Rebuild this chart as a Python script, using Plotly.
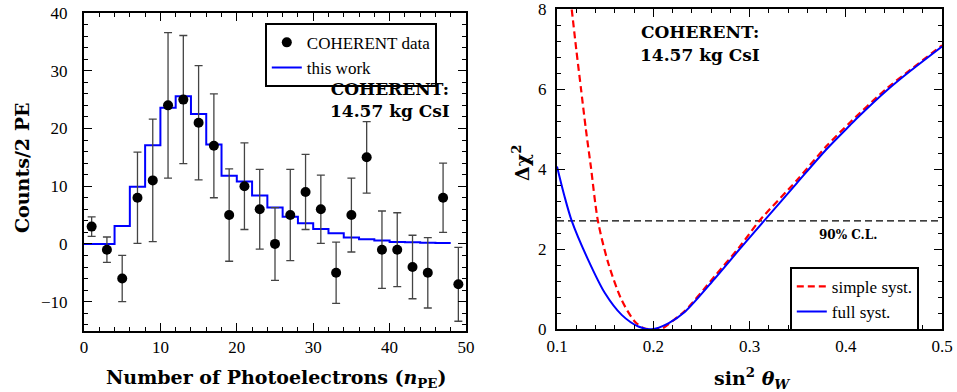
import plotly.graph_objects as go

# ---------------- Left panel data ----------------
npe_points = [1, 3, 5, 7, 9, 11, 13, 15, 17, 19, 21, 23, 25, 27, 29, 31, 33, 35, 37, 39, 41, 43, 45, 47, 49]
counts = [3, -1, -6, 8, 11, 24, 25, 21, 17, 5, 10, 6, 0, 5, 9, 6, -5, 5, 15, -1, -1, -4, -5, 8, -7]
count_err = [1.7, 2.2, 4.0, 7.9, 10.6, 12.6, 11.1, 9.9, 9.0, 8.0, 7.5, 6.9, 6.3, 7.9, 6.5, 5.9, 5.3, 6.4, 6.2, 6.7, 6.4, 5.5, 6.1, 6.0, 6.4]

bin_edges = [0, 2, 4, 6, 8, 10, 12, 14, 16, 18, 20, 22, 24, 26, 28, 30, 32, 34, 36, 38, 40, 42, 44, 46, 48]
this_work = [0.0, 0.0, 3.1, 9.9, 17.1, 23.6, 25.6, 22.5, 17.2, 11.8, 10.8, 8.4, 6.3, 4.7, 3.6, 2.6,
             1.85, 1.1, 0.8, 0.6, 0.35, 0.3, 0.2, 0.15]

# ---------------- Right panel data ----------------
sin2_full = [0.100, 0.1075, 0.1153, 0.1325, 0.1499, 0.1672, 0.1845, 0.1984, 0.2157, 0.233, 0.264, 0.290,
             0.3144, 0.349, 0.380, 0.4044, 0.4148, 0.4425, 0.4667, 0.500]
chi2_full = [4.07, 3.35, 2.71, 1.73, 0.90, 0.36, 0.07, 0.0, 0.15, 0.44, 1.27, 2.01,
             2.69, 3.65, 4.50, 5.10, 5.35, 5.97, 6.45, 7.07]

sin2_simple = [0.1153, 0.120, 0.125, 0.130, 0.135, 0.1425, 0.1533, 0.1672, 0.181, 0.191, 0.200, 0.210,
               0.219, 0.233, 0.264, 0.290, 0.3102, 0.349, 0.380, 0.4044, 0.4425, 0.4667, 0.500]
chi2_simple = [8.0, 7.0, 6.0, 5.0, 4.1, 2.71, 1.65, 0.73, 0.19, 0.02, 0.0, 0.03,
               0.19, 0.46, 1.33, 2.07, 2.71, 3.72, 4.58, 5.17, 6.02, 6.48, 7.10]

cl90 = 2.71
sin2_range = [0.1, 0.5]

W, H = 957, 392
SERIF = "Liberation Serif"
BOLD = "DejaVu Serif"

fig = go.Figure()

# Left: this work histogram (step)
hist_x = bin_edges + [bin_edges[-1] + 2]
hist_y = this_work + [this_work[-1]]
fig.add_trace(go.Scatter(
    x=hist_x, y=hist_y, mode="lines", line=dict(color="#0000ff", width=2, shape="hv"),
    name="this work", xaxis="x", yaxis="y", legend="legend"))

# Left: data points
fig.add_trace(go.Scatter(
    x=npe_points, y=counts, mode="markers",
    marker=dict(color="black", size=10),
    error_y=dict(type="data", array=count_err, color="#444444", thickness=1.3, width=4),
    name="COHERENT data", xaxis="x", yaxis="y", legend="legend"))

# Right: CL line
fig.add_trace(go.Scatter(
    x=sin2_range, y=[cl90, cl90], mode="lines",
    line=dict(color="black", width=1.2, dash="7px,4px"), showlegend=False,
    xaxis="x2", yaxis="y2"))

# Right: curves
fig.add_trace(go.Scatter(
    x=sin2_simple, y=chi2_simple, mode="lines",
    line=dict(color="#ff0000", width=2.2, dash="7px,4px", shape="spline", smoothing=0.8),
    name="simple syst.", xaxis="x2", yaxis="y2", legend="legend2"))
fig.add_trace(go.Scatter(
    x=sin2_full, y=chi2_full, mode="lines",
    line=dict(color="#0000ff", width=2, shape="spline", smoothing=0.8),
    name="full syst.", xaxis="x2", yaxis="y2", legend="legend2"))

axis_common = dict(
    showline=True, linewidth=2, linecolor="black", mirror="ticks",
    ticks="inside", ticklen=8, tickwidth=1.3, tickcolor="black",
    showgrid=False, zeroline=False,
    tickfont=dict(family=SERIF, size=17, color="black"),
    automargin=False, ticklabeloverflow="allow",
)
minor_common = dict(ticks="inside", ticklen=4, tickcolor="black", tickwidth=1.1)

fig.update_layout(
    width=W, height=H,
    margin=dict(l=0, r=0, t=0, b=0),
    paper_bgcolor="white", plot_bgcolor="white",
    xaxis=dict(axis_common, domain=[84 / W, 466 / W], range=[0, 50], dtick=10, anchor="y",
               minor=dict(minor_common, dtick=2)),
    yaxis=dict(axis_common, domain=[(H - 330.5) / H, (H - 13) / H], range=[-15, 40], dtick=10, anchor="x",
               minor=dict(minor_common, dtick=2), ticklabelstandoff=11),
    xaxis2=dict(axis_common, domain=[557 / W, 942 / W], range=[0.1, 0.5], dtick=0.1, tick0=0.1, anchor="y2",
                minor=dict(minor_common, dtick=0.02)),
    yaxis2=dict(axis_common, domain=[(H - 329.3) / H, (H - 9.3) / H], range=[0, 8], dtick=2, anchor="x2",
                minor=dict(minor_common, dtick=0.4), ticklabelstandoff=5),
    legend=dict(x=265 / W, y=1 - 23 / H, xanchor="left", yanchor="top",
                bordercolor="black", borderwidth=1.8, bgcolor="white",
                font=dict(family=SERIF, size=17, color="black"),
                traceorder="reversed", tracegroupgap=0, itemwidth=30),
    legend2=dict(x=790 / W, y=1 - 267 / H, xanchor="left", yanchor="top",
                 bordercolor="black", borderwidth=1.8, bgcolor="white",
                 font=dict(family=SERIF, size=17, color="black"), tracegroupgap=0, itemwidth=30),
    showlegend=True,
)

bold_font = dict(family=BOLD, size=17, color="black")
ctr = dict(showarrow=False, xanchor="center", yanchor="middle")
ann = [
    dict(ctr, x=40.1, y=24.9, xref="x", yref="y", text="<b>COHERENT:<br>14.57 kg CsI</b>", font=bold_font),
    dict(ctr, x=0.249, y=7.43, xref="x2", yref="y2", text="<b>COHERENT:</b>", font=bold_font),
    dict(ctr, x=0.249, y=6.86, xref="x2", yref="y2", text="<b>14.57 kg CsI</b>", font=bold_font),
    dict(ctr, x=0.402, y=2.36, xref="x2", yref="y2", text="<b>90% C.L.</b>",
         font=dict(family=BOLD, size=12, color="black")),
    # axis titles
    dict(ctr, x=276 / W, y=1 - 378 / H, xref="paper", yref="paper",
         text="<b>Number of Photoelectrons (<i>n</i><sub>PE</sub>)</b>",
         font=dict(family=BOLD, size=19, color="black")),
    dict(ctr, x=22 / W, y=1 - 168 / H, xref="paper", yref="paper", text="<b>Counts/2 PE</b>", textangle=-90,
         font=dict(family=BOLD, size=19, color="black")),
    dict(ctr, x=752 / W, y=1 - 378 / H, xref="paper", yref="paper",
         text="<b>sin<sup>2</sup> <i>θ</i><sub><i>W</i></sub></b>",
         font=dict(family=BOLD, size=19, color="black")),
    dict(ctr, x=521 / W, y=1 - 163 / H, xref="paper", yref="paper", text="<b>Δχ<sup>2</sup></b>", textangle=-90,
         font=dict(family=BOLD, size=19, color="black")),
]
fig.update_layout(annotations=ann)

fig.write_html("out.html", config={"displayModeBar": False},
               post_script="document.body.style.margin='0';document.body.style.overflow='hidden';")
